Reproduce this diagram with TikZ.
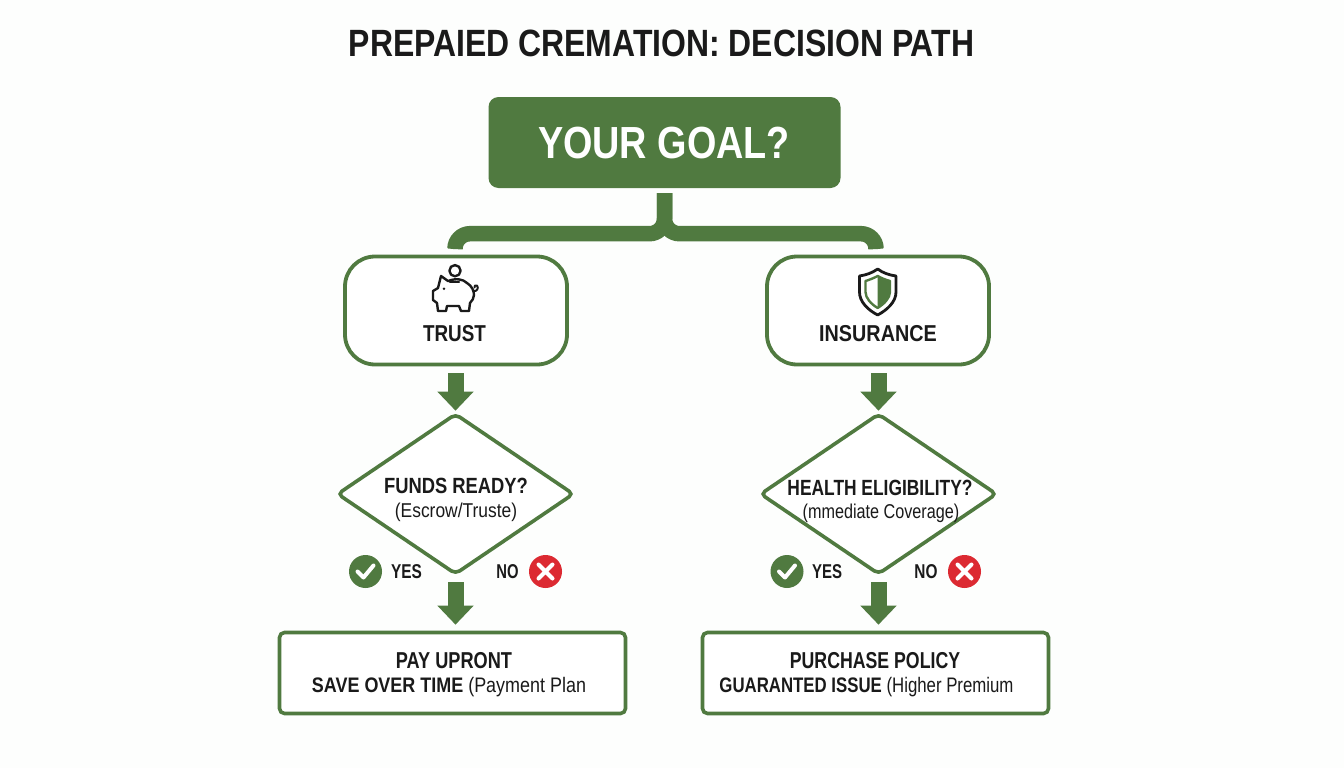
\documentclass[tikz,border=0pt]{standalone}
\usepackage{fontspec}
\setmainfont{Liberation Sans}
\usetikzlibrary{arrows.meta,shapes.geometric,calc}
\definecolor{gr}{HTML}{507A40}
\definecolor{ink}{HTML}{1A1A1A}
\definecolor{rd}{HTML}{DC2A32}
\newcommand{\sq}[2]{\scalebox{#1}[1]{#2}}
\tikzset{
 x=1pt,y=-1pt,
 txt/.style={text=ink,inner sep=0pt,align=center},
 roundbox/.style={draw=gr,line width=3.8pt,rounded corners=30pt,fill=white,minimum width=222pt,minimum height=108pt,inner sep=0pt},
 resultbox/.style={draw=gr,line width=3.6pt,rounded corners=5pt,fill=white,minimum width=346pt,minimum height=81pt,inner sep=0pt},
 decide/.style={diamond,draw=gr,line width=3.6pt,rounded corners=5pt,fill=white,minimum width=237pt,minimum height=161pt,inner sep=0pt},
 goalbox/.style={fill=gr,rounded corners=10pt,minimum width=352pt,minimum height=91pt,inner sep=0pt},
 branch/.style={draw=gr,line width=15.5pt,rounded corners=15pt,shorten <=5pt,shorten >=6pt},
 fat/.style={draw=gr,line width=16pt,-{Triangle[width=35pt,length=19pt,fill=gr]}},
 okdot/.style={circle,fill=gr,minimum size=33pt,inner sep=0pt},
 nodot/.style={circle,fill=rd,minimum size=33pt,inner sep=0pt},
 icon/.style={draw=ink,line width=2.4pt,line join=round,line cap=round},
}
\begin{document}
\begin{tikzpicture}
\useasboundingbox (0,0) rectangle (1344,768);
\fill[white!99!gr] (0,0) rectangle (1344,768);
\node[txt] (title) at (661.5,43) {\fontsize{38}{38}\selectfont\bfseries\sq{0.84}{PREPAIED CREMATION: DECISION PATH}};
\node[goalbox] (top) at (664.5,142.5) {};
\node[text=white,inner sep=0pt] (goaltxt) at (664,143) {\fontsize{45}{45}\selectfont\bfseries\sq{0.84}{YOUR GOAL?}};
\node[roundbox] (trust) at (456,310.5) {};
\node[roundbox] (ins) at (878,310.5) {};
\draw[branch] (top.south) -- ($(top.south)+(0,45.5)$) -| ([xshift=-1pt]trust.north);
\draw[branch] (top.south) -- ($(top.south)+(0,45.5)$) -| ([xshift=-2pt]ins.north);
\node[txt] (trustlbl) at (454.5,333.5) {\fontsize{23}{23}\selectfont\bfseries\sq{0.82}{TRUST}};
\node[txt] (inslbl) at (878,333.5) {\fontsize{23}{23}\selectfont\bfseries\sq{0.86}{INSURANCE}};
% piggy
\draw[icon] (455,270.7) circle (5.6pt);
\draw[icon] (441,276) -- (448,281) .. controls (456,278) and (463,279) .. (467,283) .. controls (472,286) and (474,291) .. (474,295) .. controls (474,298) and (472,301) .. (470,303) -- (469,311) -- (461,311) -- (459,306) -- (447,306) -- (446,311) -- (438,311) -- (437,303) -- (433,300) -- (433,291) -- (438,288) -- cycle;
\draw[icon] (450,282) -- (459,282);
\fill[ink] (444,288.7) circle (1.4pt);
\draw[icon,line width=2pt] (473,291) .. controls (477,292) and (479,288) .. (477,285.5) .. controls (475.5,284.5) and (474,286) .. (474.5,287.5);
% shield
\draw[icon,line width=2.8pt,line cap=butt,miter limit=4] (877.7,269) .. controls (872,273) and (866,275) .. (859.5,276) -- (859.5,292) .. controls (859.5,302) and (868,310) .. (877.7,315) .. controls (887,310) and (896,302) .. (896,292) -- (896,276) .. controls (889,275) and (883,273) .. (877.7,269) -- cycle;
\fill[gr] (877.7,276) .. controls (881,278) and (886,280) .. (890,281) -- (890,292) .. controls (890,298) and (884,304) .. (877.7,308) -- cycle;
\draw[draw=gr,line width=2.4pt,line join=round] (877.7,276) .. controls (874,278) and (869,280) .. (865.5,281) -- (865.5,292) .. controls (865.5,298) and (871,304) .. (877.7,308) .. controls (884,304) and (890,298) .. (890,292) -- (890,281) .. controls (886,280) and (881,278) .. (877.7,276) -- cycle;
% diamonds
\node[decide] (d1) at (455.5,494) {};
\node[decide] (d2) at (878.5,494) {};
\node[txt] (d1a) at (456,486) {\fontsize{22}{22}\selectfont\bfseries\sq{0.835}{FUNDS READY?}};
\node[txt] (d1b) at (456,512.5) {\fontsize{20}{20}\selectfont\sq{0.87}{(Escrow/Truste)}};
\node[txt] (d2a) at (880,488) {\fontsize{22}{22}\selectfont\bfseries\sq{0.79}{HEALTH ELIGIBILITY?}};
\node[txt] (d2b) at (881,513.5) {\fontsize{20}{20}\selectfont\sq{0.81}{(mmediate Coverage)}};
% results
\node[resultbox] (r1) at (452.5,673) {};
\node[resultbox] (r2) at (875.5,673) {};
\node[txt] (r1a) at (454,660.5) {\fontsize{23}{23}\selectfont\bfseries\sq{0.79}{PAY UPRONT}};
\node[txt] (r1b) at (449,687) {\fontsize{21}{21}\selectfont\sq{0.855}{\bfseries SAVE OVER TIME \mdseries (Payment Plan}};
\node[txt] (r2a) at (875,660.5) {\fontsize{23}{23}\selectfont\bfseries\sq{0.77}{PURCHASE POLICY}};
\node[txt] (r2b) at (866.5,687) {\fontsize{21}{21}\selectfont\sq{0.80}{\bfseries GUARANTED ISSUE \mdseries (Higher Premium}};
% arrows
\draw[fat,shorten <=7pt,shorten >=1pt] (trust.south -| d1.north) -- (d1.north);
\draw[fat,shorten <=7pt,shorten >=1pt,xshift=-1.5pt] (ins.south -| d2.north) -- (d2.north);
\draw[fat,shorten <=6pt,shorten >=6pt] (d1.south) -- (d1.south |- r1.north);
\draw[fat,shorten <=6pt,shorten >=6pt,xshift=-1.5pt] (d2.south) -- (d2.south |- r2.north);
% yes/no
\node[okdot] (y1) at (365.5,571.5) {};
\draw[white,line width=4pt,line cap=round,line join=round] ($(y1)+(-8,0)$) -- ($(y1)+(-2,6)$) -- ($(y1)+(8,-6)$);
\node[txt] (y1t) at (406.5,572) {\fontsize{20}{20}\selectfont\bfseries\sq{0.77}{YES}};
\node[txt] (n1t) at (507.5,572) {\fontsize{20}{20}\selectfont\bfseries\sq{0.74}{NO}};
\node[nodot] (n1) at (545.5,571.5) {};
\draw[white,line width=4pt,line cap=round] ($(n1)+(-7,-7)$) -- ($(n1)+(7,7)$) ($(n1)+(-7,7)$) -- ($(n1)+(7,-7)$);
\node[okdot] (y2) at (787,571.5) {};
\draw[white,line width=4pt,line cap=round,line join=round] ($(y2)+(-8,0)$) -- ($(y2)+(-2,6)$) -- ($(y2)+(8,-6)$);
\node[txt] (y2t) at (827,572) {\fontsize{20}{20}\selectfont\bfseries\sq{0.75}{YES}};
\node[txt] (n2t) at (926,572) {\fontsize{20}{20}\selectfont\bfseries\sq{0.77}{NO}};
\node[nodot] (n2) at (964.5,571.5) {};
\draw[white,line width=4pt,line cap=round] ($(n2)+(-7,-7)$) -- ($(n2)+(7,7)$) ($(n2)+(-7,7)$) -- ($(n2)+(7,-7)$);
\end{tikzpicture}
\end{document}
